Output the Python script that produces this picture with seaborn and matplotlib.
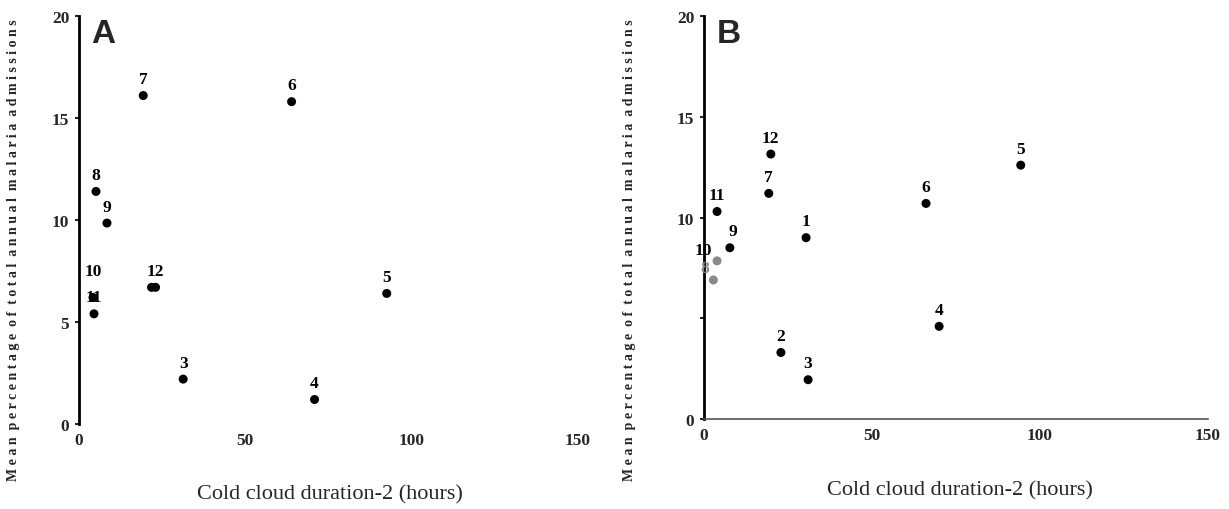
import matplotlib
matplotlib.use("Agg")
import matplotlib.pyplot as plt
import seaborn as sns
import pandas as pd

# ---------------- data ----------------
months_a = ["1", "2", "3", "4", "5", "6", "7", "8", "9", "10", "11", "12"]
ccd_a = [21.8, None, 31.3, 70.8, 92.5, 63.9, 19.3, 5.1, 8.4, 4.2, 4.5, 23.0]
pct_a = [6.7, None, 2.2, 1.2, 6.4, 15.8, 16.1, 11.4, 9.85, 6.2, 5.4, 6.7]
labels_a = ["", "", "3", "4", "5", "6", "7", "8", "9", "10", "11", "12"]

months_b = ["1", "2", "3", "4", "5", "6", "7", "8", "9", "10", "11", "12"]
ccd_b = [30.4, 22.9, 31.0, 70.0, 94.3, 66.1, 19.3, 2.8, 7.7, 3.9, 3.9, 19.9]
pct_b = [9.0, 3.3, 1.95, 4.6, 12.6, 10.7, 11.2, 6.9, 8.5, 7.85, 10.3, 13.15]
labels_b = ["1", "2", "3", "4", "5", "6", "7", "8", "9", "10", "11", "12"]
faded_points_b = ["8", "10"]
faded_labels_b = ["8"]

x_ticks = [0, 50, 100, 150]
y_ticks = [0, 5, 10, 15, 20]
y_ticklabels_a = ["0", "5", "10", "15", "20"]
y_ticklabels_b = ["0", "", "10", "15", "20"]

x_label = "Cold cloud duration-2 (hours)"
y_label = "M e a n  p e r c e n t a g e  o f  t o t a l  a n n u a l  m a l a r i a  a d m i s s i o n s"

# ---------------- style ----------------
sns.set_style("white")
plt.rcParams["font.family"] = ["DejaVu Serif"]

fig = plt.figure(figsize=(12.29, 5.10), dpi=100)
ax_a = fig.add_axes([0.0643, 0.1667, 0.406, 0.800])
ax_b = fig.add_axes([0.5728, 0.1765, 0.410, 0.790])

serif = "Liberation Serif"
GREY = "#8a8a8a"

# label offsets (points)
off_a = {"10": (0, 13), "11": (0, 6)}
off_b = {"10": (-10, 2), "9": (2, 6), "8": (-6, 3), "11": (0, 6)}


def draw(ax, ccd, pct, labels, ytl, offsets, faded_pts, faded_lbls, spine_bottom):
    df = pd.DataFrame({"ccd": ccd, "pct": pct, "label": labels}).dropna()
    df["col"] = ["grey" if l in faded_pts else "black" for l in df["label"]]
    sns.scatterplot(data=df, x="ccd", y="pct", ax=ax, s=42,
                    marker="o", edgecolor="none", legend=False,
                    hue="col", palette={"black": "black", "grey": GREY})
    for _, r in df.iterrows():
        if not r["label"]:
            continue
        dx, dy = offsets.get(r["label"], (0, 6))
        c = GREY if r["label"] in faded_lbls else "black"
        ax.annotate(r["label"], (r["ccd"], r["pct"]), xytext=(dx, dy),
                    textcoords="offset points", ha="center", va="bottom",
                    fontsize=12.5, fontweight="bold", family=serif, color=c)
    ax.set_xlim(0, 150)
    ax.set_ylim(0, 20)
    ax.set_xticks(x_ticks)
    ax.set_xticklabels([str(t) for t in x_ticks], family=serif, fontsize=12.5,
                       fontweight="bold")
    ax.set_yticks(y_ticks)
    ax.set_yticklabels(ytl, family=serif, fontsize=12.5, fontweight="bold")
    ax.tick_params(axis="y", length=3, width=1.5, direction="out", pad=4,
                   left=True)
    ax.tick_params(axis="x", length=0, pad=6)
    for s in ["top", "right"]:
        ax.spines[s].set_visible(False)
    ax.spines["left"].set_linewidth(2)
    ax.spines["left"].set_color("black")
    if spine_bottom:
        ax.spines["bottom"].set_linewidth(1.2)
        ax.spines["bottom"].set_color("#555555")
    else:
        ax.spines["bottom"].set_visible(False)
    ax.set_xlabel("")
    ax.set_ylabel("")


draw(ax_a, ccd_a, pct_a, labels_a, y_ticklabels_a, off_a, [], [], False)
draw(ax_b, ccd_b, pct_b, labels_b, y_ticklabels_b, off_b,
     faded_points_b, faded_labels_b, True)

ax_a.text(0.025, 0.995, "A", transform=ax_a.transAxes, fontsize=24,
          fontweight="bold", family="Liberation Sans", va="top", ha="left")
ax_b.text(0.025, 0.995, "B", transform=ax_b.transAxes, fontsize=24,
          fontweight="bold", family="Liberation Sans", va="top", ha="left")

fig.text(330 / 1229, 1 - 495 / 510, x_label, ha="center", va="center",
         fontsize=16, family=serif)
fig.text(960 / 1229, 1 - 491 / 510, x_label, ha="center", va="center",
         fontsize=16, family=serif)
fig.text(14 / 1229, 1 - 250 / 510, y_label, ha="center", va="center",
         rotation=90, fontsize=10.0, fontweight="bold", family=serif)
fig.text(630 / 1229, 1 - 250 / 510, y_label, ha="center", va="center",
         rotation=90, fontsize=10.0, fontweight="bold", family=serif)

fig.savefig("out.png", dpi=100, facecolor="white")
